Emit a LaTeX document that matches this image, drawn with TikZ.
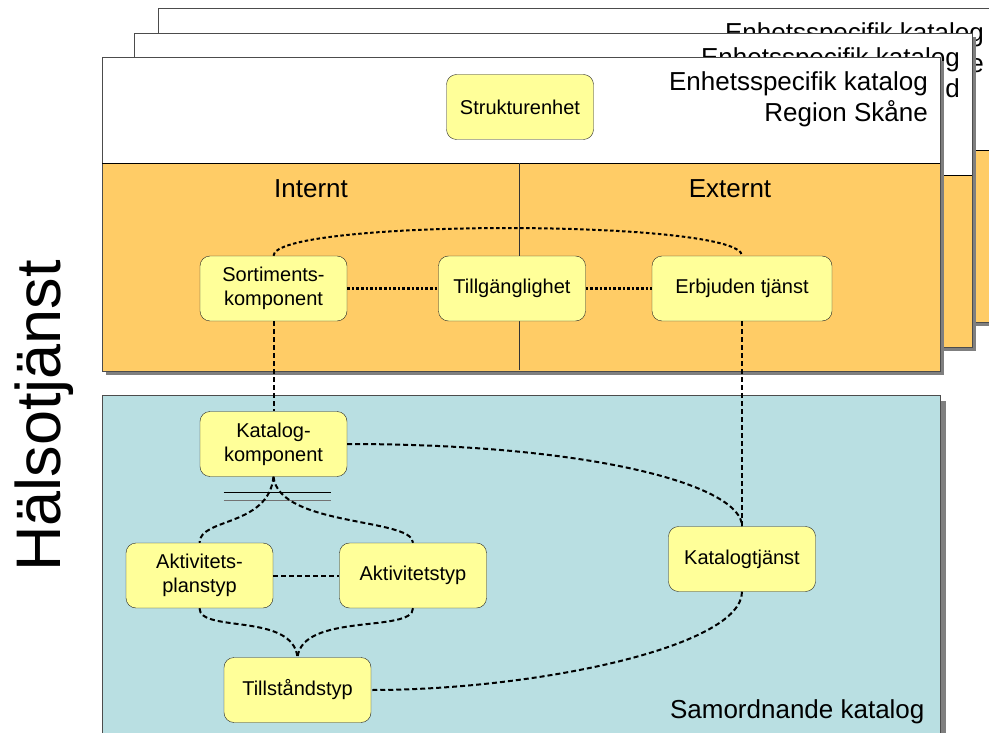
\documentclass[tikz,border=0pt]{standalone}
\usepackage{fontspec}
\setmainfont{Liberation Sans}

\definecolor{katorange}{HTML}{FFCC66}
\definecolor{katblue}{HTML}{B9DFE2}
\definecolor{katyellow}{HTML}{FFFF99}
\definecolor{skugga}{HTML}{7F7F7F}

\newcommand\boxfont{\fontsize{20}{24}\selectfont}
\newcommand\rubrikfont{\fontsize{26}{31}\selectfont}

\tikzset{
  begrepp/.style={draw=black!85, fill=katyellow, rounded corners=10pt,
    minimum width=147pt, minimum height=65pt, align=center, font=\boxfont, inner sep=2pt},
  streck/.style={line width=2pt, dash pattern=on 5pt off 3pt},
  prick/.style={line width=2.6pt, dash pattern=on 2.6pt off 2pt},
}

\begin{document}
\begin{tikzpicture}[x=1pt, y=-1pt]
      \useasboundingbox (0,0) rectangle (989,733);
      \clip (0,0) rectangle (989,733);

      % Stacked catalogue layers, back to front
      \foreach \lx/\ly/\wy/\rad in {158/8/150/e, 134/33/175/nd, 102/57/163/Region Skåne} {
        \fill[skugga] (\lx+4,\ly+4) rectangle ++(838,314);
        \fill[white] (\lx,\ly) rectangle (\lx+838,\wy);
        \fill[katorange] (\lx,\wy) rectangle (\lx+838,\ly+314);
        \draw[black!70] (\lx,\ly) rectangle ++(838,314);
        \draw (\lx,\wy) -- ++(838,0);
        \node[anchor=north east, align=right, font=\rubrikfont, inner sep=0pt]
          at (\lx+826,\ly+14) {Enhetsspecifik katalog\\\rad};
      }

      % Internal / external split of the front layer
      \draw[black!80] (519,163) -- (519,370);
      \node[font=\rubrikfont, anchor=base] (internt) at (311,197) {Internt};
      \node[font=\rubrikfont, anchor=base] (externt) at (730,197) {Externt};

      % Coordinating catalogue
      \fill[skugga] (107,401) rectangle (946,740);
      \fill[katblue] (102,395) rectangle (940,740);
      \draw[black!70] (102,740) -- (102,395) -- (940,395) -- (940,740);
      \node[font=\rubrikfont, anchor=base east] (samordnande) at (928,718) {Samordnande katalog};

      % Side label
      \node[rotate=90, anchor=base, font=\fontsize{63}{70}\selectfont, inner sep=0pt]
        (halsa) at (60,416) {Hälsotjänst};

      % Concepts
      \node[begrepp] (struktur) at (520,107) {Strukturenhet};
      \node[begrepp] (sortiment) at (273.5,288.5) {Sortiments-\\komponent};
      \node[begrepp] (tillgang) at (512,288.5) {Tillgänglighet};
      \node[begrepp, minimum width=180pt] (erbjuden) at (742,288.5) {Erbjuden tjänst};
      \node[begrepp] (katkomp) at (273.5,444) {Katalog-\\komponent};
      \node[begrepp] (aktplan) at (199.5,575.5) {Aktivitets-\\planstyp};
      \node[begrepp] (akttyp) at (413,575.5) {Aktivitetstyp};
      \node[begrepp] (kattjanst) at (742,559) {Katalogtjänst};
      \node[begrepp] (tillstand) at (297.5,690) {Tillståndstyp};

      % Links in the front layer
      \draw[prick] (sortiment) -- (tillgang);
      \draw[prick] (tillgang) -- (erbjuden);
      \draw[streck, dash pattern=on 3.5pt off 2.5pt] (sortiment.north) .. controls +(0,-37) and +(0,-37) .. (erbjuden.north);

      % Links down to the coordinating catalogue
      \draw[streck] (sortiment.south) -- (katkomp.north);
      \draw[streck] (erbjuden.south) -- (kattjanst.north);
      \draw[streck] (katkomp.east) .. controls +(250,0) and +(0,-40) .. (kattjanst.north);
      \draw[streck] (kattjanst.south) .. controls +(0,55) and +(165,0) .. (tillstand.east);

      % Split below Katalogkomponent
      \draw[line width=0.8pt] ([xshift=-50pt, yshift=-16pt]katkomp.south) -- ++(107,0);
      \draw[black!55, line width=0.8pt] ([xshift=-50pt, yshift=-24pt]katkomp.south) -- ++(107,0);
      \draw[streck] (katkomp.south) .. controls +(-5,50) and +(0,-25) .. (aktplan.north);
      \draw[streck] (katkomp.south) .. controls +(5,50) and +(0,-25) .. (akttyp.north);
      \draw[streck] (aktplan) -- (akttyp);
      \draw[streck] (aktplan.south) .. controls +(0,25) and +(-5,-45) .. (tillstand.north);
      \draw[streck] (akttyp.south) .. controls +(0,25) and +(5,-45) .. (tillstand.north);
    \end{tikzpicture}
\end{document}
